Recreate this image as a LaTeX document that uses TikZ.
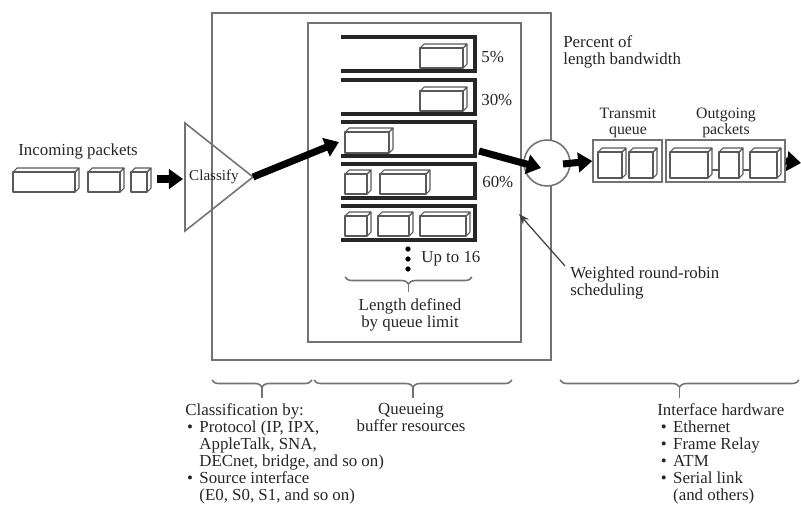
\documentclass[tikz,border=0pt]{standalone}
\usepackage{fontspec}
\setmainfont{Liberation Serif}
\usepackage{tikz}
\usetikzlibrary{
	positioning,
	arrows.meta,
	decorations.pathreplacing
}

% 3D packet: x, y (top), width, height
\newcommand{\pkt}[4]{%
	\draw[pkt] (#1,#2+4) rectangle (#1+#3-4,#2+#4);
	\draw[pkt] (#1,#2+4) -- (#1+4,#2) -- (#1+#3,#2) -- (#1+#3-4,#2+4);
	\draw[pkt] (#1+#3-4,#2+4) -- (#1+#3,#2) -- (#1+#3,#2+#4-4) -- (#1+#3-4,#2+#4);
}

\begin{document}
\begin{tikzpicture}[
				x=0.02cm, y=-0.02cm,
				frame/.style={draw=black!55, line width=0.9pt},
				bar/.style={draw=black!85, line width=1.8pt},
				pkt/.style={draw=black!65, line width=0.6pt, line join=round},
				fat/.style={line width=4pt, -{Triangle[length=8pt, width=11pt]}},
				pointer/.style={draw=black!75, line width=0.7pt, -{Stealth[length=6pt]}},
				lbl/.style={font=\fontsize{9.6}{9.7}\selectfont, inner sep=0pt, align=left, text=black!85},
				brc/.style={draw=black!55, line width=0.9pt, decorate, decoration={brace, mirror, amplitude=4pt}}
			]
				\useasboundingbox (0,0) rectangle (801,511);
				% boxes
				\draw[frame] (212,13) rectangle (551,360);
				\draw[frame] (308,23) rectangle (521,342);
				% queues
				\foreach \t/\n in {37/q1, 80/q2, 122/q3, 164/q4, 206/q5} {
					\draw[bar] (341,\t) -- (475,\t) -- (475,\t+34) -- (341,\t+34);
					\coordinate (\n) at (475,\t+17);
				}
				\pkt{420}{44}{47}{24}
				\pkt{420}{87}{47}{24}
				\pkt{345}{128}{48}{25}
				\pkt{345}{170}{26}{24}
				\pkt{380}{170}{50}{24}
				\pkt{345}{212}{26}{24}
				\pkt{378}{212}{35}{24}
				\pkt{420}{212}{50}{24}
				\node[lbl, anchor=west] (p5)  at (481,57)  {5\%};
				\node[lbl, anchor=west] (p30) at (481,100) {30\%};
				\node[lbl, anchor=west] (p60) at (482,182) {60\%};
				% up to 16
				\foreach \y in {249,259,269} \fill (408,\y) circle (1.5pt);
				\node[lbl, anchor=west] (upto) at (421,259) {Up to 16};
				\draw[brc] (345,277) -- (472,277);
				\draw[frame] (408.5,284) -- (408.5,292);
				\node[lbl, align=center, anchor=north] (lenlbl) at (410,298) {Length defined\\by queue limit};
				% classify
				\coordinate (apex) at (253,177);
				\draw[frame] (185,123) -- (apex) -- (185,231) -- cycle;
				\node[lbl, font=\fontsize{8.6}{9}\selectfont] (cls) at (214,177) {Classify};
				% incoming
				\node[lbl, anchor=west] (inlbl) at (18,151) {Incoming packets};
				\pkt{13}{168}{66}{24}
				\pkt{88}{168}{36}{24}
				\pkt{131}{168}{20}{24}
				\coordinate (in)    at (157,179);
				\coordinate (clsin) at (183,179);
				\draw[fat] (in) -- (clsin);
				\coordinate (q3in) at (339,142);
				\draw[fat] (apex) -- (q3in);
				% scheduler
				\node[frame, circle, fill=white, minimum size=0.92cm, inner sep=0pt] (sched) at (547,163) {};
				\coordinate (q3out)  at (479,151);
				\coordinate (schedin) at (541,168);
				\draw[fat] (q3out) -- (schedin);
				% transmit queue and outgoing
				\node[frame, minimum width=1.38cm, minimum height=0.84cm, inner sep=0pt] (txq) at (627.5,161) {};
				\node[frame, minimum width=2.38cm, minimum height=0.84cm, inner sep=0pt] (outq) at (725.5,161) {};
				\coordinate (schedout) at (563,164);
				\draw[fat] (schedout) -- (txq.west);
				\coordinate (outend) at (801,163);
				\draw[fat] (outq.east) -- (outend);
				\pkt{598}{148}{28}{30}
				\pkt{629}{148}{28}{30}
				\pkt{670}{148}{42}{30}
				\pkt{719}{148}{24}{30}
				\pkt{750}{148}{31}{30}
				\draw[pkt] (712,170) -- (719,170);
				\draw[pkt] (743,170) -- (750,170);
				\node[lbl, align=center, font=\fontsize{9}{9.4}\selectfont] (txlbl)  at (628,123) {Transmit\\queue};
				\node[lbl, align=center, font=\fontsize{9}{9.4}\selectfont] (outlbl) at (726,123) {Outgoing\\packets};
				% labels right
				\node[lbl, anchor=north west] (pct) at (563,35) {Percent of\\length bandwidth};
				\node[lbl, anchor=north west] (wrr) at (570,266) {Weighted round-robin\\scheduling};
				\coordinate (wrrtail) at (565,266);
				\coordinate (wrrtip)  at (519,214);
				\draw[pointer] (wrrtail) -- (wrrtip);
				% braces
				\draw[brc] (212,380) -- (312,380);
				\draw[brc] (314,380) -- (512,380);
				\draw[brc] (560,380) -- (799,380);
				\draw[frame] (262,387) -- (262,398);
				\draw[frame] (413,387) -- (413,398);
				\draw[frame] (679.5,387) -- (679.5,398);
				\node[lbl, anchor=north west] (clsby) at (185,403) {Classification by:\\
					\hspace*{1pt}\makebox[7pt][l]{\textbullet}Protocol (IP, IPX,\\
					\hspace*{8pt}AppleTalk, SNA,\\
					\hspace*{8pt}DECnet, bridge, and so on)\\
					\hspace*{1pt}\makebox[7pt][l]{\textbullet}Source interface\\
					\hspace*{8pt}(E0, S0, S1, and so on)};
				\node[lbl, align=center, anchor=north] (qbuf) at (411,403) {Queueing\\buffer resources};
				\node[lbl, anchor=north west] (ifhw) at (657,403) {Interface hardware\\
					\hspace*{2pt}\makebox[7pt][l]{\textbullet}Ethernet\\
					\hspace*{2pt}\makebox[7pt][l]{\textbullet}Frame Relay\\
					\hspace*{2pt}\makebox[7pt][l]{\textbullet}ATM\\
					\hspace*{2pt}\makebox[7pt][l]{\textbullet}Serial link\\
					\hspace*{9pt}(and others)};
			\end{tikzpicture}
\end{document}
